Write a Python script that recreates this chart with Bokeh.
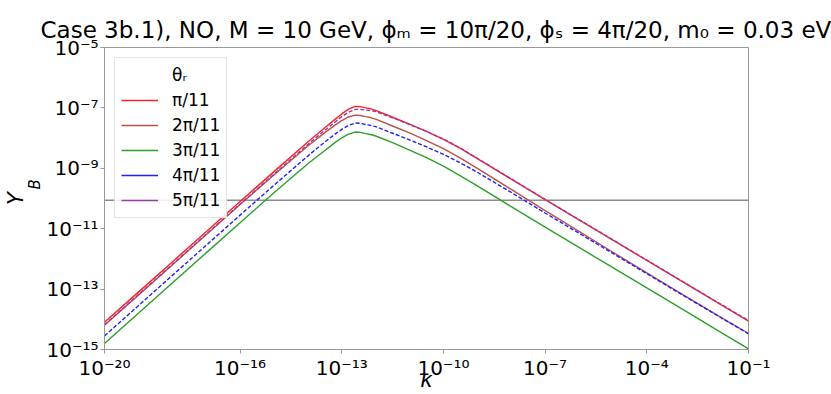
import numpy as np
from bokeh.plotting import figure
from bokeh.models import (Range1d, FixedTicker, CustomJSTickFormatter, Title,
                          Legend, LegendItem, Span)
from bokeh.embed import file_html
from bokeh.resources import INLINE

# ---- data (log10 values) ----
log10_kappa = [-20, -19, -18, -17, -16, -15, -14, -13.5, -13.2, -13.0, -12.8, -12.6,
               -12.45, -12.3, -12.15, -12.0, -11.5, -11.0, -10.5, -10.0, -9.5, -9.0,
               -8.0, -7.0, -6.0, -5.0, -4.0, -3.0, -2.0, -1.0]
log10_YB_pi11 = [-14.10, -13.10, -12.10, -11.10, -10.10, -9.11, -8.13, -7.66, -7.38, -7.20,
                 -7.04, -6.95, -6.96, -7.00, -7.03, -7.08, -7.31, -7.54, -7.78, -8.04,
                 -8.34, -8.68, -9.36, -10.04, -10.71, -11.38, -12.05, -12.72, -13.39, -14.06]
log10_YB_2pi11 = [-14.20, -13.20, -12.20, -11.20, -10.20, -9.22, -8.26, -7.82, -7.57, -7.42,
                  -7.30, -7.24, -7.25, -7.29, -7.32, -7.37, -7.60, -7.83, -8.08, -8.35,
                  -8.66, -9.00, -9.70, -10.40, -11.09, -11.78, -12.46, -13.14, -13.81, -14.47]
log10_YB_3pi11 = [-14.80, -13.80, -12.80, -11.80, -10.80, -9.81, -8.85, -8.41, -8.15, -7.99,
                  -7.87, -7.80, -7.81, -7.85, -7.88, -7.93, -8.15, -8.40, -8.65, -8.93,
                  -9.25, -9.58, -10.27, -10.95, -11.62, -12.29, -12.96, -13.63, -14.31, -14.98]
log10_YB_4pi11 = [-14.55, -13.55, -12.55, -11.55, -10.55, -9.56, -8.59, -8.13, -7.87, -7.71,
                  -7.58, -7.50, -7.51, -7.55, -7.58, -7.62, -7.84, -8.06, -8.29, -8.54,
                  -8.82, -9.13, -9.80, -10.48, -11.15, -11.82, -12.49, -13.16, -13.82, -14.48]
log10_YB_5pi11 = [-14.18, -13.18, -12.18, -11.18, -10.18, -9.19, -8.21, -7.74, -7.47, -7.29,
                  -7.14, -7.05, -7.05, -7.07, -7.09, -7.12, -7.33, -7.55, -7.78, -8.03,
                  -8.33, -8.67, -9.35, -10.03, -10.70, -11.37, -12.04, -12.71, -13.38, -14.04]

series_labels = ["π/11", "2π/11", "3π/11", "4π/11", "5π/11"]
series_data = [log10_YB_pi11, log10_YB_2pi11, log10_YB_3pi11, log10_YB_4pi11, log10_YB_5pi11]
series_colors = ["#ff2020", "#b8524e", "#2ca02c", "#1f1fff", "#9a3aa6"]
series_dash = ["solid", "solid", "solid", "4 2", "4 2"]

YB_observed = 8.7e-11

x_ticks = [1e-20, 1e-16, 1e-13, 1e-10, 1e-7, 1e-4, 1e-1]
x_tick_labels = ["10⁻²⁰", "10⁻¹⁶", "10⁻¹³", "10⁻¹⁰", "10⁻⁷", "10⁻⁴", "10⁻¹"]
y_ticks = [1e-15, 1e-13, 1e-11, 1e-9, 1e-7, 1e-5]
y_tick_labels = ["10⁻¹⁵", "10⁻¹³", "10⁻¹¹", "10⁻⁹", "10⁻⁷", "10⁻⁵"]

title_text = "Case 3b.1), NO, M = 10 GeV, ϕₘ = 10π/20, ϕₛ = 4π/20, m₀ = 0.03 eV"
legend_title = "θᵣ"
x_label = "κ"
y_label_main = "Y"
y_label_sub = "B"

FONT = "DejaVu Sans"

# ---- figure ----
p = figure(width=831, height=394, x_axis_type="log", y_axis_type="log",
           x_range=Range1d(1e-20, 1e-1), y_range=Range1d(1e-15, 1e-5),
           output_backend="svg", toolbar_location=None, title=None,
           min_border_left=104, min_border_right=83, min_border_top=47,
           min_border_bottom=44)
p.background_fill_color = "white"
p.border_fill_color = "white"
p.outline_line_color = "#999999"
p.outline_line_width = 1
p.xgrid.visible = False
p.ygrid.visible = False

fmt_code = """
const lt = Math.log10(tick);
for (let i = 0; i < vals.length; i++) {
  if (Math.abs(Math.log10(vals[i]) - lt) < 1e-6) return labs[i];
}
return '';
"""
p.xaxis.ticker = FixedTicker(ticks=x_ticks)
p.yaxis.ticker = FixedTicker(ticks=y_ticks)
p.xaxis.formatter = CustomJSTickFormatter(args=dict(vals=x_ticks, labs=x_tick_labels), code=fmt_code)
p.yaxis.formatter = CustomJSTickFormatter(args=dict(vals=y_ticks, labs=y_tick_labels), code=fmt_code)
for ax in (p.xaxis[0], p.yaxis[0]):
    ax.axis_line_color = "#999999"
    ax.major_tick_line_color = "#999999"
    ax.major_tick_out = 4
    ax.major_tick_in = 0
    ax.minor_tick_line_color = None
    ax.major_label_text_font = FONT
    ax.major_label_text_font_size = "20px"
    ax.major_label_text_color = "black"
    ax.major_label_standoff = 2

p.xaxis.axis_label = x_label
p.xaxis.axis_label_text_font = FONT
p.xaxis.axis_label_text_font_size = "21px"
p.xaxis.axis_label_text_font_style = "italic"
p.xaxis.axis_label_text_color = "black"
p.xaxis.axis_label_standoff = -15

# reference line
span = Span(location=YB_observed, dimension="width", line_color="#8c8c8c", line_width=1.5,
            level="underlay")
p.add_layout(span)

kappa = [10 ** v for v in log10_kappa]
legend_items = []
dummy = p.line([kappa[0]], [10 ** log10_YB_pi11[0]], line_alpha=0)
legend_items.append(LegendItem(label=legend_title, renderers=[dummy]))
for lab, ys, col, dash in zip(series_labels, series_data, series_colors, series_dash):
    yb = [10 ** v for v in ys]
    p.line(kappa, yb, line_color=col, line_width=1.4, line_dash=dash)
    # single-point proxy (draws nothing in the frame) so the legend shows a solid line
    proxy = p.line([kappa[0]], [yb[0]], line_color=col, line_width=1.4)
    legend_items.append(LegendItem(label=lab, renderers=[proxy]))

legend = Legend(items=legend_items, location="top_left", margin=10, padding=6,
                spacing=3, label_height=22, glyph_height=22, glyph_width=37,
                label_standoff=14, label_text_font=FONT, label_text_font_size="17px",
                label_text_color="black",
                border_line_color="#cccccc", border_line_width=1,
                background_fill_color="white", background_fill_alpha=0.85)
p.add_layout(legend)

# y-axis label Y_B built from two side titles (subscript nearer the frame)
t_sub = Title(text=y_label_sub, align="left", offset=160, standoff=0,
              text_font=FONT, text_font_size="15px", text_font_style="italic",
              text_color="black")
p.add_layout(t_sub, "left")
t_main = Title(text=y_label_main, align="center", standoff=-8,
               text_font=FONT, text_font_size="21px", text_font_style="italic",
               text_color="black")
p.add_layout(t_main, "left")

# main title
t = Title(text=title_text, align="left", offset=-64, standoff=9,
          text_font=FONT, text_font_size="23px", text_font_style="normal",
          text_color="black")
p.add_layout(t, "above")

open("out.html", "w").write(file_html(p, INLINE))
